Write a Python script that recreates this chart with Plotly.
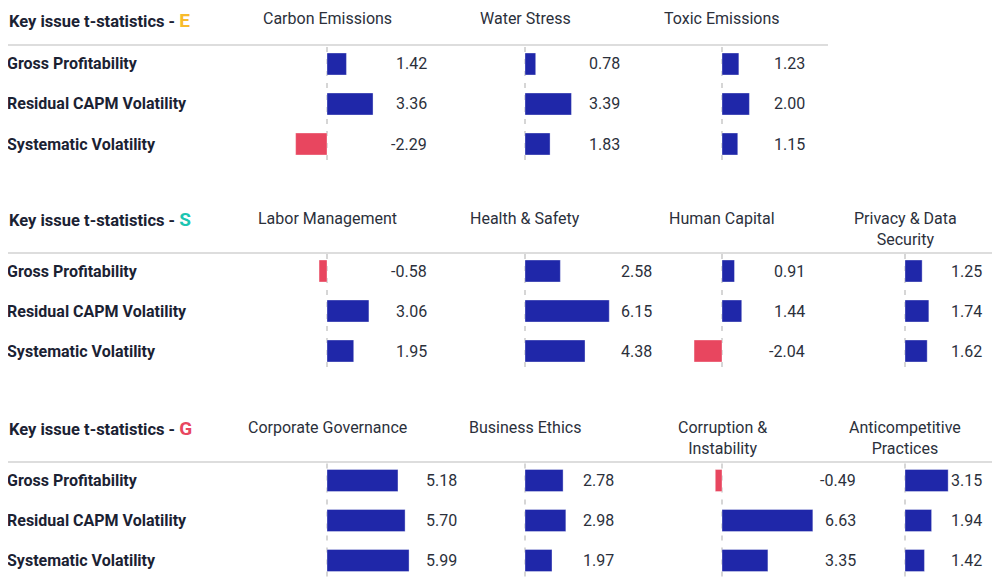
import plotly.graph_objects as go

# --- data ---
metrics = ["Gross Profitability", "Residual CAPM Volatility", "Systematic Volatility"]

e_issues = ["Carbon Emissions", "Water Stress", "Toxic Emissions"]
e_tstats = [[1.42, 3.36, -2.29], [0.78, 3.39, 1.83], [1.23, 2.00, 1.15]]

s_issues = ["Labor Management", "Health & Safety", "Human Capital", "Privacy & Data<br>Security"]
s_tstats = [[-0.58, 3.06, 1.95], [2.58, 6.15, 4.38], [0.91, 1.44, -2.04], [1.25, 1.74, 1.62]]

g_issues = ["Corporate Governance", "Business Ethics", "Corruption &<br>Instability", "Anticompetitive<br>Practices"]
g_tstats = [[5.18, 5.70, 5.99], [2.78, 2.98, 1.97], [-0.49, 6.63, 3.35], [3.15, 1.94, 1.42]]

pillars = ["E", "S", "G"]

# --- styling / layout (page pixels) ---
PAGE_OFF = 8                           # default body margin of the page
W, H = 1000 - PAGE_OFF, 578 - PAGE_OFF
FONT = "Roboto"
DARK = "#1b2233"
TEXT = "#2b303b"
POS = "#1f27a9"
NEG = "#e8465f"
PILLAR_COLORS = {"E": "#f8bb2c", "S": "#1cc5b2", "G": "#e8465f"}

col_zero = [327, 525, 722, 905]        # x pixel of each column's zero line
px_per_unit = 13.7
x_range = [-3.5, 6.85]
panel_title_y = [12, 219, 428]
panel_rule_y = [45, 253, 462]
panel_rule_x1 = [828, 1000, 1000]
panel_row1_y = [64, 271, 480.5]
row_step = 40
below_last = 16                        # pixels of dashed line under the last row centre
value_label_right = [[429, 622, 807], [429, 654, 807, 984], [459, 616, 858, 984]]
label_left = 5
title_left = 8

panels = [(e_issues, e_tstats), (s_issues, s_tstats), (g_issues, g_tstats)]


def px(x):
    return (x - PAGE_OFF) / W


def py(y):
    return min(1.0, max(0.0, 1 - (y - PAGE_OFF) / H))


fig = go.Figure()
annotations = []
shapes = []
layout = {}

for c, zero in enumerate(col_zero):
    left = zero + x_range[0] * px_per_unit
    right = zero + x_range[1] * px_per_unit
    layout["xaxis" if c == 0 else f"xaxis{c + 1}"] = dict(
        domain=[px(left), px(right)], range=x_range, visible=False, fixedrange=True)

for p, (issues, tstats) in enumerate(panels):
    ya = f"y{p + 1}" if p else "y"
    top = panel_row1_y[p] - row_step / 2
    bottom = panel_row1_y[p] + row_step * 2 + below_last
    layout["yaxis" if p == 0 else f"yaxis{p + 1}"] = dict(
        domain=[py(bottom), py(top)], type="category", categoryarray=metrics,
        range=[2 + below_last / row_step, -0.5], visible=False, fixedrange=True)

    # panel title (kept inside the figure at the very top)
    title_y = panel_title_y[p] - 12
    annotations.append(dict(
        x=px(title_left), y=py(title_y), xref="paper", yref="paper",
        xanchor="left", yanchor="top", showarrow=False, borderpad=0,
        text=f"<b>Key issue t-statistics - </b><b><span style='color:{PILLAR_COLORS[pillars[p]]};"
             f"font-size:19px'>{pillars[p]}</span></b>",
        font=dict(family=FONT, size=16.5, color=DARK)))

    # rule under the headers
    shapes.append(dict(type="line", xref="paper", yref="paper",
                       x0=px(0), x1=px(panel_rule_x1[p]), y0=py(panel_rule_y[p]), y1=py(panel_rule_y[p]),
                       line=dict(color="#dddddd", width=2)))

    # row labels
    for m in metrics:
        annotations.append(dict(
            x=px(label_left), y=m, xref="paper", yref=ya, xanchor="left", yanchor="middle",
            showarrow=False, text=f"<b>{m}</b>",
            font=dict(family=FONT, size=16, color=DARK)))

    for c, (issue, vals) in enumerate(zip(issues, tstats)):
        xa = f"x{c + 1}" if c else "x"
        fig.add_trace(go.Bar(
            x=vals, y=metrics, orientation="h", xaxis=xa, yaxis=ya, width=0.55,
            marker=dict(color=[POS if v >= 0 else NEG for v in vals],
                        line=dict(color="rgba(255,255,255,0.35)", width=1)),
            showlegend=False, hoverinfo="x+y"))

        # dashed zero line
        shapes.append(dict(type="line", xref=xa, yref=f"{ya} domain", x0=0, x1=0,
                           y0=0, y1=1 - 3 / (row_step * 2.5 + below_last),
                           line=dict(color="#d6d6d6", width=2, dash="5px,7px"), layer="below"))

        # column header
        annotations.append(dict(
            x=px(col_zero[c]), y=py(panel_title_y[p] - 11), xref="paper", yref="paper",
            xanchor="center", yanchor="top", showarrow=False, borderpad=0, text=issue,
            font=dict(family=FONT, size=16, color=TEXT)))

        # value labels
        for m, v in zip(metrics, vals):
            annotations.append(dict(
                x=px(value_label_right[p][c]), y=m, xref="paper", yref=ya,
                xanchor="right", yanchor="middle", showarrow=False, text=f"{v:.2f}",
                font=dict(family=FONT, size=16, color=TEXT)))

fig.update_layout(
    width=W, height=H, margin=dict(l=0, r=0, t=0, b=0),
    paper_bgcolor="white", plot_bgcolor="white",
    barmode="overlay", annotations=annotations, shapes=shapes,
    font=dict(family=FONT), **layout)

fig.write_html("out.html")
